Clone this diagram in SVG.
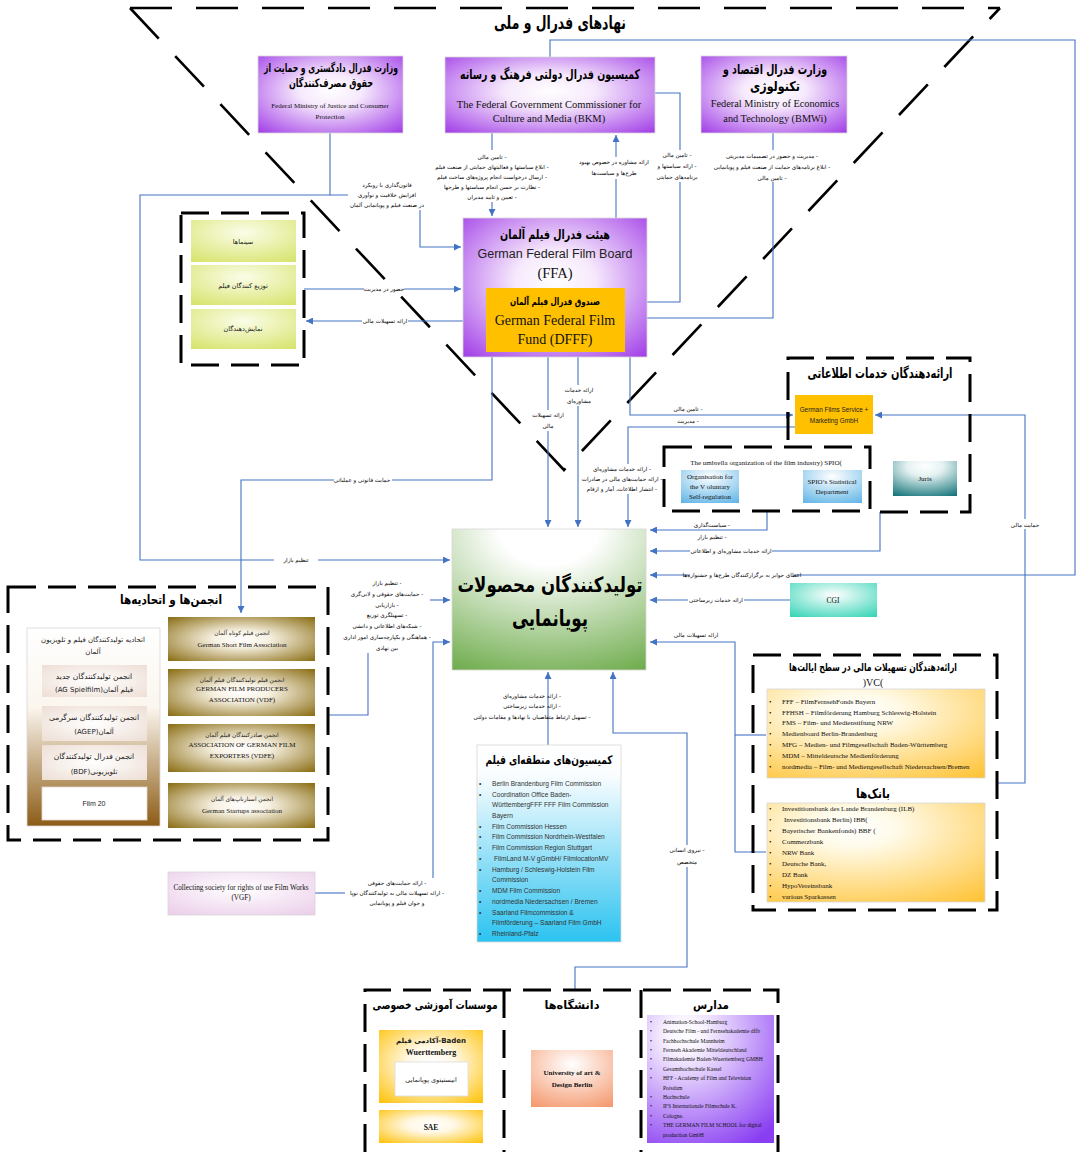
<svg xmlns="http://www.w3.org/2000/svg" width="1077" height="1152" viewBox="0 0 1077 1152">
<defs>
<style>
.t{font-family:"DejaVu Sans",sans-serif;font-weight:bold;text-anchor:middle;direction:rtl;fill:#000}
.lb{font-family:"DejaVu Sans",sans-serif;font-size:5.6px;text-anchor:middle;direction:rtl;fill:#000}
.fs{font-family:"DejaVu Sans",sans-serif;text-anchor:middle;direction:rtl;fill:#222}
.en{font-family:"Liberation Serif",serif;text-anchor:middle;fill:#111}
.ens{font-family:"Liberation Sans",sans-serif;text-anchor:middle;fill:#222}
.li{font-family:"Liberation Serif",serif;font-size:7px;fill:#111}
.lc{font-family:"Liberation Sans",sans-serif;font-size:6.6px;fill:#333}
.ls{font-family:"Liberation Serif",serif;font-size:5.6px;fill:#111}
.cn{fill:none;stroke:#4472C4;stroke-width:1.1}
.ar{marker-end:url(#a)}
.dash{fill:none;stroke:#000;stroke-width:3;stroke-dasharray:28 12}
.tri{fill:none;stroke:#000;stroke-width:2.6;stroke-dasharray:42 24}
.wb{fill:#fff}
.bx{stroke:#d8d8d8;stroke-width:0.8}
</style>
<marker id="a" markerWidth="7" markerHeight="7" refX="7" refY="3.5" orient="auto" markerUnits="userSpaceOnUse"><path d="M0,0 L7,3.5 L0,7 z" fill="#4472C4"/></marker>
<radialGradient id="gPur" cx="50%" cy="45%" r="72%"><stop offset="0" stop-color="#fff"/><stop offset="0.3" stop-color="#f6e9fc"/><stop offset="1" stop-color="#a443e8"/></radialGradient>
<radialGradient id="gGreen" cx="50%" cy="0%" r="115%"><stop offset="0" stop-color="#fff"/><stop offset="0.22" stop-color="#fff"/><stop offset="1" stop-color="#68a844"/></radialGradient>
<radialGradient id="gYel" cx="50%" cy="30%" r="85%"><stop offset="0" stop-color="#fbfde8"/><stop offset="1" stop-color="#d6e36a"/></radialGradient>
<radialGradient id="gOl" cx="50%" cy="50%" r="75%"><stop offset="0" stop-color="#fff"/><stop offset="0.25" stop-color="#f7f1e2"/><stop offset="1" stop-color="#7f6000"/></radialGradient>
<linearGradient id="gBr" x1="0" y1="0" x2="0" y2="1"><stop offset="0" stop-color="#fff"/><stop offset="0.4" stop-color="#fbf6ee"/><stop offset="1" stop-color="#8c5c16"/></linearGradient>
<radialGradient id="gBeige" cx="50%" cy="50%" r="75%"><stop offset="0" stop-color="#fff"/><stop offset="1" stop-color="#ecdcd2"/></radialGradient>
<radialGradient id="gGold" cx="40%" cy="25%" r="95%"><stop offset="0" stop-color="#fff"/><stop offset="0.2" stop-color="#fffbea"/><stop offset="1" stop-color="#ffc233"/></radialGradient>
<linearGradient id="gBlue" x1="0" y1="0" x2="0" y2="1"><stop offset="0" stop-color="#fff"/><stop offset="0.15" stop-color="#fafdff"/><stop offset="1" stop-color="#2cc3f0"/></linearGradient>
<radialGradient id="gPink" cx="50%" cy="40%" r="80%"><stop offset="0" stop-color="#fff"/><stop offset="1" stop-color="#eacbe9"/></radialGradient>
<radialGradient id="gCgi" cx="50%" cy="35%" r="80%"><stop offset="0" stop-color="#fff"/><stop offset="1" stop-color="#35d4b6"/></radialGradient>
<radialGradient id="gJur" cx="50%" cy="15%" r="95%"><stop offset="0" stop-color="#fff"/><stop offset="0.3" stop-color="#e4f1f1"/><stop offset="1" stop-color="#17767c"/></radialGradient>
<radialGradient id="gLb" cx="50%" cy="20%" r="95%"><stop offset="0" stop-color="#fff"/><stop offset="1" stop-color="#5db3e6"/></radialGradient>
<radialGradient id="gSal" cx="50%" cy="25%" r="90%"><stop offset="0" stop-color="#fff"/><stop offset="1" stop-color="#f4966a"/></radialGradient>
<radialGradient id="gSch" cx="30%" cy="15%" r="100%"><stop offset="0" stop-color="#fff"/><stop offset="0.15" stop-color="#f8f2ff"/><stop offset="1" stop-color="#8a3ef2"/></radialGradient>
<radialGradient id="gPg" cx="50%" cy="45%" r="75%"><stop offset="0" stop-color="#fff"/><stop offset="0.3" stop-color="#fff8e6"/><stop offset="1" stop-color="#ffc000"/></radialGradient>
</defs>
<rect width="1077" height="1152" fill="#fff"/>

<!-- big dashed triangle -->
<g id="federal-frame">
<path class="tri" d="M130,8 L1000,8 M130,8 L564,470 L1000,8"/>
<rect class="wb" x="490" y="10" width="140" height="26"/>
<text class="t" x="560" y="29" font-size="18" textLength="132" lengthAdjust="spacingAndGlyphs">نهادهای فدرال و ملی</text>
</g>

<!-- connectors -->
<g id="connectors">
<path class="cn ar" d="M492,133 V216"/>
<path class="cn ar" d="M616,218 V135"/>
<path class="cn ar" d="M655,93 H680 V302 H627"/>
<path class="cn ar" d="M773,133 V318 H627"/>
<path class="cn ar" d="M330,133 V195 H420 V247 H461"/>
<path class="cn ar" d="M330,195 H140 V560 H450"/>
<path class="cn ar" d="M304,289 H461"/>
<path class="cn ar" d="M463,321 H306"/>
<path class="cn ar" d="M492,357 V480 H241 V613"/>
<path class="cn ar" d="M548,357 V527"/>
<path class="cn ar" d="M578,357 V527"/>
<path class="cn ar" d="M630,357 V415 H793"/>
<path class="cn ar" d="M795,427 H628 V527"/>
<path class="cn ar" d="M767,510 V530 H650"/>
<path class="cn ar" d="M880,512 V551 H650"/>
<path class="cn ar" d="M550,57 V40 H1075 V575 H650"/>
<path class="cn ar" d="M790,600 H650"/>
<path class="cn" d="M735,735 H766"/>
<path class="cn ar" d="M766,852 H735 V642 H650"/>
<path class="cn ar" d="M997,783 H1025 V415 H875"/>
<path class="cn ar" d="M575,990 V967 H687 V733 H613 V672"/>
<path class="cn ar" d="M548,745 V672"/>
<path class="cn" d="M328,715 H368 V652"/>
<path class="cn ar" d="M430,600 H450"/>
<path class="cn" d="M315,893 H345"/>
<path class="cn ar" d="M433,878 V642 H450"/>

<!-- connector labels -->
<rect class="wb" x="430" y="150" width="124" height="52"/>
<text class="lb" x="492" y="159">- تامین مالی</text>
<text class="lb" x="492" y="169">- ابلاغ سیاستها و فعالیتهای حمایتی از صنعت فیلم</text>
<text class="lb" x="492" y="179">- ارسال درخواست انجام پروژه‌های ساخت فیلم</text>
<text class="lb" x="492" y="189">- نظارت بر حسن انجام سیاستها و طرحها</text>
<text class="lb" x="492" y="199">- تعیین و تایید مدیران</text>

<rect class="wb" x="584" y="157" width="62" height="22"/>
<text class="lb" x="614" y="164">ارائه مشاوره در خصوص بهبود</text>
<text class="lb" x="614" y="175">طرح‌ها و سیاست‌ها</text>

<rect class="wb" x="652" y="150" width="48" height="32"/>
<text class="lb" x="677" y="157">- تامین مالی</text>
<text class="lb" x="677" y="168">- ارائه سیاستها و</text>
<text class="lb" x="677" y="179">برنامه‌های حمایتی</text>

<rect class="wb" x="712" y="150" width="122" height="32"/>
<text class="lb" x="772" y="158">- مدیریت و حضور در تصمیمات مدیریتی</text>
<text class="lb" x="772" y="169">- ابلاغ برنامه‌های حمایت از صنعت فیلم و پویانمایی</text>
<text class="lb" x="772" y="180">- تامین مالی</text>

<rect class="wb" x="348" y="180" width="78" height="30"/>
<text class="lb" x="387" y="187">قانون‌گذاری با رویکرد</text>
<text class="lb" x="387" y="197">افزایش خلاقیت و نوآوری</text>
<text class="lb" x="387" y="207">در صنعت فیلم و پویانمایی آلمان</text>

<rect class="wb" x="364" y="285" width="40" height="8"/>
<text class="lb" x="384" y="291">حضور در مدیریت</text>
<rect class="wb" x="362" y="317" width="46" height="8"/>
<text class="lb" x="385" y="323">ارائه تسهیلات مالی</text>

<rect class="wb" x="334" y="476" width="58" height="8"/>
<text class="lb" x="362" y="482">حمایت قانونی و عملیاتی</text>

<rect class="wb" x="530" y="410" width="36" height="21"/>
<text class="lb" x="548" y="417">ارائه تسهیلات</text>
<text class="lb" x="548" y="428">مالی</text>
<rect class="wb" x="563" y="385" width="32" height="21"/>
<text class="lb" x="579" y="392">ارائه خدمات</text>
<text class="lb" x="579" y="403">مشاوره‌ای</text>

<text class="lb" x="688" y="411">- تامین مالی</text>
<text class="lb" x="688" y="423">- مدیریت</text>

<rect class="wb" x="582" y="464" width="80" height="30"/>
<text class="lb" x="622" y="471">- ارائه خدمات مشاوره‌ای</text>
<text class="lb" x="622" y="481">- ارائه حمایت‌های مالی در صادرات</text>
<text class="lb" x="622" y="491">- انتشار اطلاعات، آمار و ارقام</text>

<text class="lb" x="712" y="527">- سیاست‌گذاری</text>
<text class="lb" x="712" y="539">- تنظیم بازار</text>

<rect class="wb" x="690" y="547" width="82" height="8"/>
<text class="lb" x="731" y="553">ارائه خدمات مشاوره‌ای و اطلاعاتی</text>
<rect class="wb" x="690" y="571" width="104" height="8"/>
<text class="lb" x="742" y="577">اعطای جوایز به برگزارکنندگان طرح‌ها و جشنواره‌ها</text>
<rect class="wb" x="688" y="596" width="56" height="8"/>
<text class="lb" x="716" y="602">ارائه خدمات زیرساختی</text>
<text class="lb" x="696" y="637">ارائه تسهیلات مالی</text>

<rect class="wb" x="1009" y="519" width="32" height="10"/>
<text class="lb" x="1025" y="527">حمایت مالی</text>

<rect class="wb" x="274" y="556" width="44" height="8"/>
<text class="lb" x="296" y="562">تنظیم بازار</text>

<rect class="wb" x="340" y="577" width="90" height="76"/>
<text class="lb" x="387" y="585">- تنظیم بازار</text>
<text class="lb" x="387" y="596">- حمایت‌های حقوقی و لابی‌گری</text>
<text class="lb" x="387" y="607">- بازاریابی</text>
<text class="lb" x="387" y="617">- تسهیلگری توزیع</text>
<text class="lb" x="387" y="628">- شبکه‌های اطلاعاتی و دانشی</text>
<text class="lb" x="387" y="639">- هماهنگی و یکپارچه‌سازی امور اداری</text>
<text class="lb" x="387" y="650">بین نهادی</text>

<text class="lb" x="397" y="885">- ارائه حمایت‌های حقوقی</text>
<text class="lb" x="397" y="895">- ارائه تسهیلات مالی به تولیدکنندگان نوپا</text>
<text class="lb" x="397" y="905">و جوان فیلم و پویانمایی</text>

<text class="lb" x="532" y="698">- ارائه خدمات مشاوره‌ای</text>
<text class="lb" x="532" y="708">- ارائه خدمات زیرساختی</text>
<text class="lb" x="532" y="719">- تسهیل ارتباط متقاضیان با نهادها و مقامات دولتی</text>

<rect class="wb" x="666" y="845" width="42" height="22"/>
<text class="lb" x="687" y="852">- نیروی انسانی</text>
<text class="lb" x="687" y="864">متخصص</text>
</g>

<!-- ministries -->
<g id="justice">
<rect class="bx" x="258" y="56" width="145" height="77" fill="url(#gPur)"/>
<text class="t" x="331" y="72" font-size="11.5" textLength="134" lengthAdjust="spacingAndGlyphs">وزارت فدرال دادگستری و حمایت از</text>
<text class="t" x="331" y="87" font-size="11.5" textLength="84" lengthAdjust="spacingAndGlyphs">حقوق مصرف‌کنندگان</text>
<text class="en" x="330" y="108" font-size="7">Federal Ministry of Justice and Consumer</text>
<text class="en" x="330" y="119" font-size="7">Protection</text>
</g>
<g id="bkm">
<rect class="bx" x="445" y="57" width="210" height="76" fill="url(#gPur)"/>
<text class="t" x="550" y="79" font-size="13.5" textLength="180" lengthAdjust="spacingAndGlyphs">کمیسیون فدرال دولتی فرهنگ و رسانه</text>
<text class="en" x="549" y="108" font-size="10.5">The Federal Government Commissioner for</text>
<text class="en" x="549" y="122" font-size="10.5">Culture and Media (BKM)</text>
</g>
<g id="bmwi">
<rect class="bx" x="701" y="56" width="146" height="77" fill="url(#gPur)"/>
<text class="t" x="775" y="74" font-size="13.5" textLength="104" lengthAdjust="spacingAndGlyphs">وزارت فدرال اقتصاد و</text>
<text class="t" x="775" y="91" font-size="13.5" textLength="50" lengthAdjust="spacingAndGlyphs">تکنولوژی</text>
<text class="en" x="775" y="107" font-size="10.3">Federal Ministry of Economics</text>
<text class="en" x="775" y="122" font-size="10.3">and Technology (BMWi)</text>
</g>

<!-- cinema group -->
<g id="cinema-group">
<path class="dash" d="M181,213 H304 V365 H181 Z"/>
<rect x="191" y="220" width="105" height="42" fill="url(#gYel)"/>
<text class="fs" x="243" y="244" font-size="6.5">سینماها</text>
<rect x="191" y="265" width="105" height="40" fill="url(#gYel)"/>
<text class="fs" x="243" y="288" font-size="6.5">توزیع کنندگان فیلم</text>
<rect x="191" y="309" width="105" height="40" fill="url(#gYel)"/>
<text class="fs" x="243" y="331" font-size="6.5">نمایش‌دهندگان</text>
</g>

<!-- FFA -->
<g id="ffa">
<rect class="bx" x="463" y="218" width="184" height="139" fill="url(#gPur)"/>
<text class="t" x="555" y="239" font-size="13" textLength="110" lengthAdjust="spacingAndGlyphs">هیئت فدرال فیلم آلمان</text>
<text class="ens" x="555" y="258" font-size="12.5">German Federal Film Board</text>
<text class="en" x="555" y="278" font-size="14.5">(FFA)</text>
</g>
<g id="dfff">
<rect x="486" y="288" width="139" height="64" fill="#ffc000"/>
<text class="t" x="555" y="305" font-size="10" textLength="90" lengthAdjust="spacingAndGlyphs">صندوق فدرال فیلم آلمان</text>
<text class="en" x="555" y="325" font-size="14">German Federal Film</text>
<text class="en" x="555" y="344" font-size="14">Fund (DFFF)</text>
</g>

<!-- info services -->
<g id="info-services">
<path class="dash" d="M788,440 V358 H970 V512 H870"/>
<text class="t" x="880" y="378" font-size="14" textLength="145" lengthAdjust="spacingAndGlyphs">ارائه‌دهندگان خدمات اطلاعاتی</text>
</g>
<g id="german-films">
<rect x="795" y="395" width="78" height="39" fill="#ffc000"/>
<text class="ens" x="834" y="412" font-size="6.4" fill="#8a5a00">German Films Service +</text>
<text class="ens" x="834" y="423" font-size="6.4" fill="#8a5a00">Marketing GmbH</text>
</g>
<g id="spio">
<path class="dash" d="M664,447 H870 V511 H664 Z"/>
<text class="en" x="766" y="465" font-size="7">The umbrella organization of the film industry) SPIO(</text>
</g>
<g id="fsk">
<rect x="681" y="470" width="58" height="33" fill="url(#gLb)"/>
<text class="en" x="710" y="479" font-size="7">Organisation for</text>
<text class="en" x="710" y="489" font-size="7">the V oluntary</text>
<text class="en" x="710" y="499" font-size="7">Self-regulation</text>
</g>
<g id="spio-stat">
<rect x="803" y="470" width="59" height="33" fill="url(#gLb)"/>
<text class="en" x="832" y="484" font-size="7">SPIO’s Statistical</text>
<text class="en" x="832" y="494" font-size="7">Department</text>
</g>
<g id="juris">
<rect x="893" y="461" width="64" height="35" fill="url(#gJur)"/>
<text class="en" x="925" y="481" font-size="7">Juris</text>
</g>

<!-- central node -->
<g id="producers">
<rect class="bx" x="452" y="529" width="194" height="141" fill="url(#gGreen)"/>
<text class="t" x="550" y="592" font-size="21" textLength="185" lengthAdjust="spacingAndGlyphs">تولیدکنندگان محصولات</text>
<text class="t" x="550" y="626" font-size="23" textLength="76" lengthAdjust="spacingAndGlyphs">پویانمایی</text>
</g>

<g id="cgi">
<rect x="790" y="583" width="87" height="34" fill="url(#gCgi)"/>
<text class="en" x="833" y="603" font-size="7.5">CGI</text>
</g>

<!-- associations -->
<g id="associations">
<path class="dash" d="M8,587 H328 V840 H8 Z"/>
<text class="t" x="171" y="604" font-size="13" textLength="102" lengthAdjust="spacingAndGlyphs">انجمن‌ها و اتحادیه‌ها</text>
</g>
<g id="union">
<rect class="bx" x="27" y="628" width="133" height="198" fill="url(#gBr)"/>
<text class="fs" x="93" y="642" font-size="7">اتحادیه تولیدکنندگان فیلم و تلویزیون</text>
<text class="fs" x="93" y="654" font-size="7">آلمان</text>
<rect x="42" y="665" width="105" height="32" fill="url(#gBeige)"/>
<text class="fs" x="94" y="679" font-size="7.5">انجمن تولیدکنندگان جدید</text>
<text class="fs" x="94" y="692" font-size="7">فیلم آلمان(AG Spielfilm)</text>
<rect x="42" y="706" width="105" height="35" fill="url(#gBeige)"/>
<text class="fs" x="94" y="720" font-size="7.5">انجمن تولیدکنندگان سرگرمی</text>
<text class="fs" x="94" y="734" font-size="7">آلمان(AGEP)</text>
<rect x="42" y="745" width="105" height="35" fill="url(#gBeige)"/>
<text class="fs" x="94" y="759" font-size="7.5">انجمن فدرال تولیدکنندگان</text>
<text class="fs" x="94" y="774" font-size="7">تلویزیونی(BDF)</text>
<rect x="42" y="787" width="105" height="33" fill="#fff" stroke="#e0d8d0" stroke-width="0.8"/>
<text class="ens" x="94" y="806" font-size="7">Film 20</text>
</g>
<g id="short-film">
<rect x="168" y="617" width="147" height="44" fill="url(#gOl)"/>
<text class="fs" x="242" y="635" font-size="5.8">انجمن فیلم کوتاه آلمان</text>
<text class="en" x="242" y="647" font-size="7">German Short Film Association</text>
</g>
<g id="vdf">
<rect x="168" y="669" width="147" height="47" fill="url(#gOl)"/>
<text class="fs" x="242" y="682" font-size="5.8">انجمن فیلم تولیدکنندگان فیلم آلمان</text>
<text class="en" x="242" y="691" font-size="7">GERMAN FILM PRODUCERS</text>
<text class="en" x="242" y="702" font-size="7">ASSOCIATION (VDF)</text>
</g>
<g id="vdfe">
<rect x="168" y="724" width="147" height="48" fill="url(#gOl)"/>
<text class="fs" x="242" y="737" font-size="5.8">انجمن صادرکنندگان فیلم آلمان</text>
<text class="en" x="242" y="747" font-size="7">ASSOCIATION OF GERMAN FILM</text>
<text class="en" x="242" y="758" font-size="7">EXPORTERS (VDFE)</text>
</g>
<g id="startups">
<rect x="168" y="783" width="147" height="45" fill="url(#gOl)"/>
<text class="fs" x="242" y="801" font-size="5.8">انجمن استارتاپ‌های آلمان</text>
<text class="en" x="242" y="813" font-size="7">German Startups association</text>
</g>

<g id="vgf">
<rect class="bx" x="168" y="872" width="147" height="43" fill="url(#gPink)"/>
<text class="en" x="241" y="890" font-size="7.2">Collecting society for rights of use Film Works</text>
<text class="en" x="241" y="900" font-size="7.2">(VGF)</text>
</g>

<!-- film commissions -->
<g id="film-commissions">
<rect class="bx" x="477" y="745" width="144" height="197" fill="url(#gBlue)"/>
<text class="t" x="549" y="764" font-size="12" textLength="127" lengthAdjust="spacingAndGlyphs">کمیسیون‌های منطقه‌ای فیلم</text>
<g class="lc">
<text x="479" y="786">•</text><text x="492" y="786">Berlin Brandenburg Film Commission</text>
<text x="479" y="797">•</text><text x="492" y="797">Coordination Office Baden-</text>
<text x="492" y="807">WürttembergFFF FFF Film Commission</text>
<text x="492" y="818">Bayern</text>
<text x="479" y="829">•</text><text x="492" y="829">Film Commission Hessen</text>
<text x="479" y="839">•</text><text x="492" y="839">Film Commission Nordrhein-Westfalen</text>
<text x="479" y="850">•</text><text x="492" y="850">Film Commission Region Stuttgart</text>
<text x="479" y="861">•</text><text x="494" y="861">FilmLand M-V gGmbH/ FilmlocationMV</text>
<text x="479" y="872">•</text><text x="492" y="872">Hamburg / Schleswig-Holstein Film</text>
<text x="492" y="882">Commission</text>
<text x="479" y="893">•</text><text x="492" y="893">MDM Film Commission</text>
<text x="479" y="904">•</text><text x="492" y="904">nordmedia Niedersachsen / Bremen</text>
<text x="479" y="915">•</text><text x="492" y="915">Saarland Filmcommission &amp;</text>
<text x="492" y="925">Filmförderung – Saarland Film GmbH</text>
<text x="479" y="936">•</text><text x="492" y="936">Rheinland-Pfalz</text>
</g>
</g>

<!-- funding -->
<g id="state-funding">
<path class="dash" d="M753,655 H997 V910 H753 Z"/>
<text class="t" x="873" y="671" font-size="11" textLength="168" lengthAdjust="spacingAndGlyphs">ارائه‌دهندگان تسهیلات مالی در سطح ایالت‌ها</text>
<text class="en" x="873" y="686" font-size="10">)VC(</text>
<rect class="bx" x="767" y="689" width="218" height="89" fill="url(#gGold)"/>
<g class="li">
<text x="769" y="704">•</text><text x="782" y="704">FFF – FilmFernsehFonds Bayern</text>
<text x="769" y="715">•</text><text x="782" y="715">FFHSH – Filmförderung Hamburg Schleswig-Holstein</text>
<text x="769" y="725">•</text><text x="782" y="725">FMS – Film- und Medienstiftung NRW</text>
<text x="769" y="736">•</text><text x="782" y="736">Medienboard Berlin-Brandenburg</text>
<text x="769" y="747">•</text><text x="782" y="747">MFG – Medien- und Filmgesellschaft Baden-Württemberg</text>
<text x="769" y="758">•</text><text x="782" y="758">MDM – Mitteldeutsche Medienförderung</text>
<text x="769" y="769">•</text><text x="782" y="769">nordmedia – Film- und Mediengesellschaft Niedersachsen/Bremen</text>
</g>
</g>
<g id="banks">
<text class="t" x="873" y="798" font-size="13" textLength="34" lengthAdjust="spacingAndGlyphs">بانک‌ها</text>
<rect class="bx" x="767" y="803" width="218" height="99" fill="url(#gGold)"/>
<g class="li">
<text x="769" y="811">•</text><text x="782" y="811">Investitionsbank des Lande Brandenburg (ILB)</text>
<text x="769" y="822">•</text><text x="784" y="822">Investitionsbank Berlin) IBB(</text>
<text x="769" y="833">•</text><text x="782" y="833">Bayerischer Bankenfonds) BBF (</text>
<text x="769" y="844">•</text><text x="782" y="844">Commerzbank</text>
<text x="769" y="855">•</text><text x="782" y="855">NRW Bank</text>
<text x="769" y="866">•</text><text x="782" y="866">Deutsche Bank,</text>
<text x="769" y="877">•</text><text x="782" y="877">DZ Bank</text>
<text x="769" y="888">•</text><text x="782" y="888">HypoVereinsbank</text>
<text x="769" y="899">•</text><text x="782" y="899">various Sparkassen</text>
</g>
</g>

<!-- education -->
<g id="education">
<path class="dash" d="M365,1152 V990 H778 V1152 M504,990 V1152 M641,990 V1152"/>
</g>
<g id="private-institutes">
<text class="t" x="435" y="1009" font-size="11.5" textLength="125" lengthAdjust="spacingAndGlyphs">موسسات آموزشی خصوصی</text>
<rect x="379" y="1030" width="104" height="73" fill="url(#gPg)"/>
<text class="fs" x="431" y="1043" font-size="7" style="font-weight:bold">Baden-آکادمی فیلم</text>
<text class="en" x="431" y="1055" font-size="8" font-weight="bold">Wuerttemberg</text>
<rect x="395" y="1062" width="73" height="34" fill="#fff" stroke="#ddd" stroke-width="0.8"/>
<text class="fs" x="431" y="1082" font-size="6.5">انیستیتوی پویانمایی</text>
<rect x="379" y="1110" width="104" height="33" fill="url(#gPg)"/>
<text class="en" x="431" y="1130" font-size="7.5" font-weight="bold">SAE</text>
</g>
<g id="universities">
<text class="t" x="572" y="1009" font-size="11.5" textLength="55" lengthAdjust="spacingAndGlyphs">دانشگاه‌ها</text>
<rect x="531" y="1050" width="82" height="57" fill="url(#gSal)"/>
<text class="en" x="572" y="1075" font-size="7" font-weight="bold">University of art &amp;</text>
<text class="en" x="572" y="1087" font-size="7" font-weight="bold">Design Berlin</text>
</g>
<g id="schools">
<text class="t" x="711" y="1009" font-size="12" textLength="36" lengthAdjust="spacingAndGlyphs">مدارس</text>
<rect x="647" y="1015" width="127" height="128" fill="url(#gSch)"/>
<g class="ls">
<text x="650" y="1024">•</text><text x="663" y="1024">Animation-School-Hamburg</text>
<text x="650" y="1033">•</text><text x="663" y="1033">Deutsche Film - und Fernsehakademie dffb</text>
<text x="650" y="1043">•</text><text x="663" y="1043">Fachhochschule Mannheim</text>
<text x="650" y="1052">•</text><text x="663" y="1052">Fernseh Akademie Mitteldeutschland</text>
<text x="650" y="1061">•</text><text x="663" y="1061">Filmakademie Baden-Wuerttemberg GMBH</text>
<text x="650" y="1071">•</text><text x="663" y="1071">Gesamthochschule Kassel</text>
<text x="650" y="1080">•</text><text x="663" y="1080">HFF - Academy of Film and Television</text>
<text x="663" y="1090">Potsdam</text>
<text x="650" y="1099">•</text><text x="663" y="1099">Hochschule</text>
<text x="650" y="1108">•</text><text x="663" y="1108">IFS Internationale Filmschule K.</text>
<text x="650" y="1118">•</text><text x="663" y="1118">Cologne.</text>
<text x="650" y="1127">•</text><text x="663" y="1127">THE GERMAN FILM SCHOOL for digital</text>
<text x="663" y="1137">production GmbH</text>
</g>
</g>
</svg>
